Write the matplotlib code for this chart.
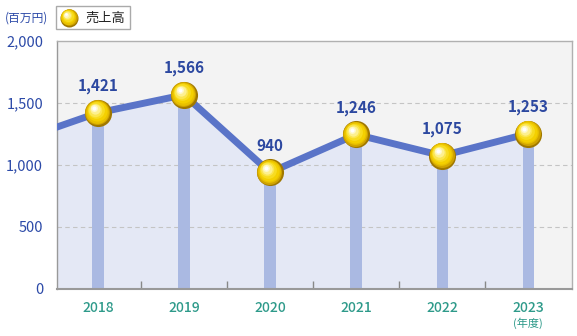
import matplotlib.pyplot as plt
from matplotlib.transforms import offset_copy
from matplotlib.patches import Rectangle

plt.rcParams['font.family'] = ['Noto Sans CJK JP', 'DejaVu Sans']

# 売上高（百万円）
years = ["2018", "2019", "2020", "2021", "2022", "2023"]
sales = [1421, 1566, 940, 1246, 1075, 1253]
prev_sales = 1180  # 2017年度（左端の線のみ）
yticks = [0, 500, 1000, 1500, 2000]

LINE = "#5a74c8"
BAR = "#aab9e2"
FILL = "#e4e8f5"
BG = "#f3f3f3"
LABEL = "#2c48a0"
XCOL = "#2e9a8a"
GRID = "#c4c4c4"


def sphere(ax, x, y, size, zorder=5, transform=None):
    """金色の球体マーカーを重ね塗りで描く"""
    tr = transform if transform is not None else ax.transData
    fig = ax.figure
    layers = [
        (1.00, "#a07800", 0.0, 0.0),
        (0.92, "#d0a400", -0.4, 0.4),
        (0.84, "#e8c000", -0.7, 0.8),
        (0.74, "#f4d000", -1.0, 1.2),
        (0.62, "#f8dc20", -1.4, 1.6),
        (0.50, "#fbe650", -1.8, 2.1),
        (0.38, "#fdf090", -2.2, 2.5),
        (0.26, "#fef8c8", -2.5, 2.9),
        (0.15, "#ffffff", -2.7, 3.1),
    ]
    for frac, c, dx, dy in layers:
        t = offset_copy(tr, fig=fig, x=dx * size / 18, y=dy * size / 18, units="points")
        ax.plot(x, y, "o", ms=size * frac, color=c, mec="none",
                transform=t, zorder=zorder, clip_on=False)


fig = plt.figure(figsize=(5.77, 3.36), dpi=100)
ax = fig.add_axes([57 / 577, 1 - 289 / 336, 515 / 577, 248 / 336])
ax.set_facecolor(BG)

xs = list(range(len(years)))
ax.set_xlim(-0.477, 5.51)
ax.set_ylim(0, 2000)

# 塗りつぶしと折れ線（左端は前年度から）
lx = [-1] + xs
ly = [prev_sales] + sales
ax.fill_between(lx, ly, 0, color=FILL, zorder=1, lw=0)
for y in yticks[1:-1]:
    ax.axhline(y, color=GRID, lw=0.8, ls=(0, (4, 3)), zorder=1.5)
ax.bar(xs, sales, width=0.13, color=BAR, zorder=2)
ax.plot(lx, ly, color=LINE, lw=5, zorder=3, solid_capstyle="butt")

for x, v in zip(xs, sales):
    sphere(ax, x, v, 19.5)
    ax.annotate(f"{v:,}", (x, v), xytext=(0, 19), textcoords="offset points",
                ha="center", va="center", fontsize=11, fontweight="bold",
                color=LABEL, zorder=6)

# 軸
ax.set_yticks(yticks)
ax.set_yticklabels([f"{v:,}" for v in yticks], color="#2c4aa8", fontsize=10.5)
ax.tick_params(axis="y", length=0, pad=10)
ax.set_xticks([x + 0.5 for x in xs[:-1]])
ax.set_xticklabels([])
ax.tick_params(axis="x", direction="in", length=6, color="#888888", width=1)
for x, yr in zip(xs, years):
    ax.text(x, -0.075, yr, transform=ax.get_xaxis_transform(), ha="center",
            va="center", fontsize=10, color=XCOL, fontweight="medium")
ax.text(5, -0.14, "(年度)", transform=ax.get_xaxis_transform(), ha="center",
        va="center", fontsize=8, color=XCOL)
for s in ax.spines.values():
    s.set_color("#b0b0b0")
    s.set_linewidth(1)
ax.spines["bottom"].set_color("#999999")
ax.spines["left"].set_color("#999999")
ax.spines["bottom"].set_linewidth(1.5)

# 単位と凡例
fig.text(5 / 577, 1 - 18 / 336, "(百万円)", ha="left", va="center",
         fontsize=8.5, color="#2c4aa8")
fig.patches.append(Rectangle((56 / 577, 1 - 29 / 336), 74 / 577, 23 / 336,
                             transform=fig.transFigure, fc="white",
                             ec="#aaaaaa", lw=1, zorder=-1))
sphere(ax, 69 / 577, 1 - 17.5 / 336, 13, zorder=10, transform=fig.transFigure)
fig.text(85 / 577, 1 - 18 / 336, "売上高", ha="left", va="center",
         fontsize=9.5, color="#222222")

fig.savefig("out.png", dpi=100)
